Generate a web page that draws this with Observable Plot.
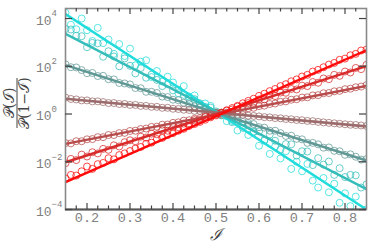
<!DOCTYPE html>
<html><head><meta charset="utf-8">
<script src="https://cdn.jsdelivr.net/npm/d3@7"></script>
<script src="https://cdn.jsdelivr.net/npm/@observablehq/plot@0.6"></script>
<style>body{margin:0;background:#fff}svg{display:block}</style>
</head><body><div id="chart"></div>
<script>
// I values of the data points
const I = [0.15,0.1625,0.175,0.1875,0.2,0.2125,0.225,0.2375,0.25,0.2625,0.275,0.2875,0.3,0.3125,0.325,0.3375,0.35,0.3625,0.375,0.3875,0.4,0.4125,0.425,0.4375,0.45,0.4625,0.475,0.4875,0.5,0.5125,0.525,0.5375,0.55,0.5625,0.575,0.5875,0.6,0.6125,0.625,0.6375,0.65,0.6625,0.675,0.6875,0.7,0.7125,0.725,0.7375,0.75,0.7625,0.775,0.7875,0.8,0.8125,0.825,0.8375,0.85];

// log10 of P(I)/P(1-I) for each series (circles)
const s1 = [4.24,3.74,3.55,4.00,3.51,3.06,3.61,2.97,3.12,2.52,2.93,2.43,2.74,2.04,2.19,2.25,1.55,1.80,1.36,1.56,1.32,0.87,1.17,0.73,0.78,0.38,0.44,0.34,0.05,0.05,-0.30,-0.29,-0.69,-0.49,-0.88,-0.73,-1.33,-1.12,-1.67,-1.36,-1.86,-1.56,-2.30,-2.00,-2.40,-2.09,-2.79,-3.08,-2.68,-3.28,-2.92,-3.72,-3.32,-3.86,-3.46,-4.20,-4.00];
const s2 = [3.56,3.54,3.28,3.26,2.80,2.98,2.96,2.40,2.63,2.41,2.00,2.33,2.02,1.70,1.93,1.52,1.65,1.43,1.17,1.25,0.99,1.02,0.80,0.64,0.62,0.45,0.29,0.27,0.11,-0.06,-0.08,-0.34,-0.31,-0.58,-0.44,-0.76,-0.73,-1.09,-0.86,-1.12,-1.49,-1.26,-1.27,-1.74,-1.56,-1.57,-2.14,-1.85,-2.12,-1.99,-2.55,-2.27,-2.64,-2.55,-2.57,-3.08,-2.95];
const s3 = [2.08,1.96,1.95,1.84,1.71,1.72,1.59,1.60,1.46,1.45,1.30,1.28,1.24,1.09,1.08,0.93,0.93,0.88,0.73,0.71,0.60,0.58,0.47,0.43,0.32,0.27,0.21,0.11,0.06,-0.04,-0.07,-0.17,-0.21,-0.33,-0.37,-0.42,-0.55,-0.57,-0.70,-0.70,-0.80,-0.92,-0.91,-1.04,-1.06,-1.21,-1.21,-1.27,-1.41,-1.40,-1.54,-1.56,-1.71,-1.69,-1.79,-1.91,-1.89];
const s4 = [0.69,0.63,0.61,0.57,0.57,0.53,0.53,0.50,0.46,0.46,0.42,0.42,0.38,0.38,0.34,0.34,0.30,0.30,0.26,0.26,0.22,0.21,0.18,0.17,0.13,0.13,0.09,0.09,0.05,0.05,0.01,0.01,-0.03,-0.03,-0.07,-0.08,-0.10,-0.13,-0.14,-0.17,-0.18,-0.21,-0.22,-0.25,-0.26,-0.29,-0.30,-0.33,-0.35,-0.37,-0.39,-0.41,-0.43,-0.45,-0.46,-0.48,-0.50];
const s5 = [-1.22,-1.23,-1.14,-1.14,-1.06,-1.05,-0.97,-0.97,-0.88,-0.88,-0.80,-0.79,-0.71,-0.70,-0.63,-0.61,-0.54,-0.53,-0.45,-0.44,-0.37,-0.35,-0.28,-0.26,-0.20,-0.17,-0.11,-0.09,-0.02,0.00,0.06,0.09,0.15,0.17,0.24,0.26,0.33,0.35,0.42,0.44,0.51,0.53,0.60,0.62,0.69,0.70,0.78,0.79,0.87,0.88,0.95,0.97,1.04,1.06,1.12,1.15,1.21];
const s6 = [-2.06,-1.88,-1.93,-1.70,-1.78,-1.60,-1.65,-1.46,-1.50,-1.31,-1.36,-1.18,-1.10,-1.14,-0.95,-0.99,-0.82,-0.85,-0.68,-0.70,-0.54,-0.55,-0.40,-0.39,-0.26,-0.24,-0.12,-0.09,0.02,0.06,0.16,0.19,0.31,0.33,0.46,0.47,0.61,0.61,0.76,0.75,0.90,0.89,1.05,1.03,1.19,1.17,1.34,1.31,1.49,1.46,1.64,1.60,1.78,1.74,1.93,1.88,2.06];
const s7 = [-2.70,-2.55,-2.58,-2.40,-2.20,-2.30,-2.10,-2.05,-1.85,-1.90,-1.72,-1.65,-1.55,-1.45,-1.38,-1.25,-1.20,-1.05,-1.00,-0.88,-0.80,-0.70,-0.62,-0.50,-0.42,-0.33,-0.24,-0.14,-0.06,0.04,0.14,0.25,0.34,0.45,0.55,0.64,0.76,0.85,0.96,1.05,1.17,1.25,1.37,1.45,1.57,1.64,1.78,1.85,1.96,2.07,2.14,2.27,2.32,2.46,2.52,2.66,2.70];

// fitted straight lines (log10 at I = 0.15 and I = 0.85)
const fitI = [0.15, 0.85];
const fitStart = [4.19, 3.36, 2.05, 0.64, -1.25, -2.02, -2.85];
const fitEnd = [-4.00, -3.15, -1.95, -0.52, 1.18, 2.01, 2.67];

const seriesColors = ["#22dcdc", "#34bdb9", "#609896", "#9c6b6b", "#b84b4b", "#d82b2b", "#ff0a0a"];

const xMajor = [0.2, 0.3, 0.4, 0.5, 0.6, 0.7, 0.8];
const xMinor = [0.175,0.225,0.25,0.275,0.325,0.35,0.375,0.425,0.45,0.475,0.525,0.55,0.575,0.625,0.65,0.675,0.725,0.75,0.775,0.825];
const yExp = [4, 2, 0, -2, -4];

const all = [s1, s2, s3, s4, s5, s6, s7];
const points = all.flatMap((s, k) => s.map((v, i) => ({I: I[i], r: Math.pow(10, v), k})));
const fits = fitStart.flatMap((a, k) => [{I: fitI[0], r: Math.pow(10, a), k}, {I: fitI[1], r: Math.pow(10, fitEnd[k]), k}]);
const yTicks = yExp.map(e => Math.pow(10, e));

const W = 373, H = 249, mL = 65, mR = 7, mT = 8, mB = 40;
const pH = H - mT - mB, pW = W - mL - mR;
const mono = "Liberation Mono, DejaVu Sans Mono, monospace";

const chart = Plot.plot({
  width: W, height: H,
  marginLeft: mL, marginRight: mR, marginTop: mT, marginBottom: mB,
  style: {background: "#fff", overflow: "visible"},
  x: {domain: [0.15, 0.85], axis: null},
  y: {type: "log", domain: [1e-4, Math.pow(10, 4.42)], axis: null},
  color: {type: "ordinal", domain: [0,1,2,3,4,5,6], range: seriesColors},
  marks: [
    Plot.dot(points, {x: "I", y: "r", stroke: "k", r: 3.5, strokeWidth: 1, strokeOpacity: 0.75, fill: "none", clip: true}),
    Plot.line(fits, {x: "I", y: "r", z: "k", stroke: "k", strokeWidth: 2.5, clip: true}),
    Plot.frame({stroke: "#8a8a8a", strokeWidth: 1.6}),
    Plot.ruleY([1e-4], {stroke: "#555", strokeWidth: 2}),
    // bottom ticks (inward)
    Plot.tickX(xMajor, {x: d => d, stroke: "#444", strokeWidth: 1.2, insetTop: pH - 6}),
    Plot.tickX(xMinor, {x: d => d, stroke: "#444", strokeWidth: 1.2, insetTop: pH - 3.5}),
    // top ticks
    Plot.tickX(xMajor, {x: d => d, stroke: "#444", strokeWidth: 1.2, insetBottom: pH - 6}),
    Plot.tickX(xMinor, {x: d => d, stroke: "#444", strokeWidth: 1.2, insetBottom: pH - 3.5}),
    // left / right ticks
    Plot.tickY(yTicks, {y: d => d, stroke: "#444", strokeWidth: 1.2, insetRight: pW - 7}),
    Plot.tickY(yTicks, {y: d => d, stroke: "#444", strokeWidth: 1.2, insetLeft: pW - 7}),
    // x tick labels
    Plot.text(xMajor, {x: d => d, frameAnchor: "bottom", dy: 12, text: d => d.toFixed(1), fill: "#808080", fontSize: 13.5, fontFamily: mono}),
    // y tick labels
    Plot.text(yExp, {y: d => Math.pow(10, d), frameAnchor: "left", dx: -14, dy: 2, textAnchor: "end", text: () => "10", fill: "#808080", fontSize: 13, fontFamily: mono}),
    Plot.text(yExp, {y: d => Math.pow(10, d), frameAnchor: "left", dx: -14, dy: -5, textAnchor: "start", text: d => d < 0 ? "\u2212" + (-d) : String(d), fill: "#808080", fontSize: 9, fontFamily: mono}),
    // x label
    Plot.text(["\u2110"], {frameAnchor: "bottom", dy: 30, text: d => d, fill: "#444", fontSize: 16, fontFamily: "DejaVu Serif", fontStyle: "italic"})
  ]
});
document.getElementById("chart").append(chart);

// y label: fraction P(I) / P(1-I)
const svg = d3.select(chart);
const g = svg.append("g").attr("transform", "translate(17,103) rotate(-90)")
  .attr("font-family", "DejaVu Serif").attr("font-size", 14).attr("fill", "#444");
g.append("text").attr("x", 0).attr("y", -3).attr("text-anchor", "middle").text("\uD835\uDCAB(\u2110)");
g.append("line").attr("x1", -25).attr("x2", 25).attr("y1", 0).attr("y2", 0).attr("stroke", "#444").attr("stroke-width", 1);
g.append("text").attr("x", 0).attr("y", 12).attr("text-anchor", "middle").text("\uD835\uDCAB(1\u2212\u2110)");
</script>
</body></html>
